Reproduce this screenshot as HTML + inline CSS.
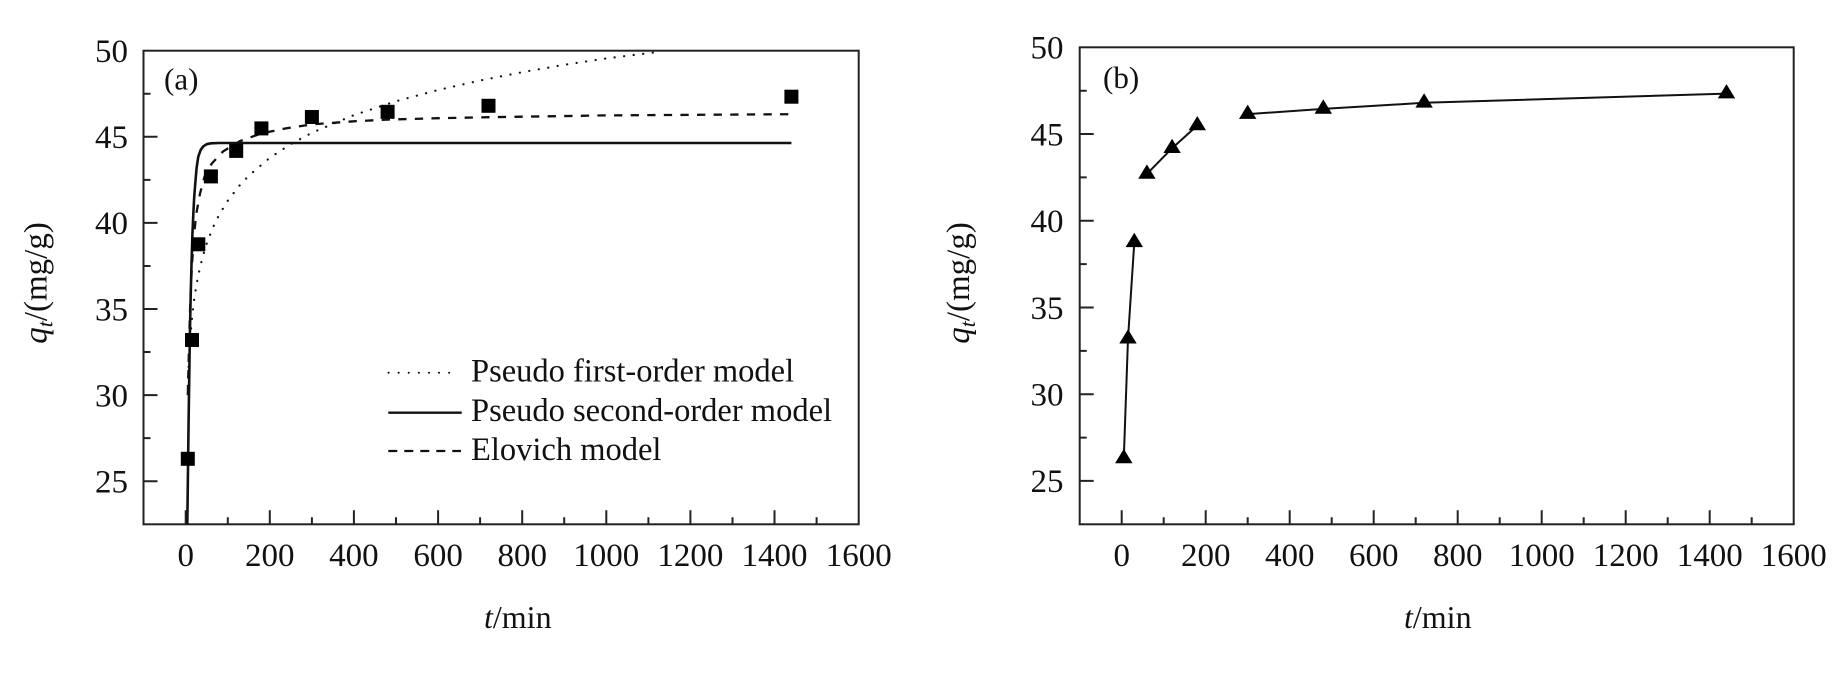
<!DOCTYPE html>
<html>
<head>
<meta charset="utf-8">
<style>
  html, body { margin:0; padding:0; background:#ffffff; }
  svg { display:block; }
  text { font-family: "Liberation Serif", "Times New Roman", serif; fill:#111; }
</style>
</head>
<body>
<svg width="1838" height="673" viewBox="0 0 1838 673" xmlns="http://www.w3.org/2000/svg">
  <rect x="0" y="0" width="1838" height="673" fill="#ffffff"/>

  <!-- ================= PANEL A ================= -->
  <rect x="143.5" y="50.7" width="715.2" height="473.6" fill="none" stroke="#222" stroke-width="2"/>
  <path d="M143.5,136.8H157.5 M143.5,222.9H157.5 M143.5,309H157.5 M143.5,395.1H157.5 M143.5,481.2H157.5
           M143.5,93.75H150.5 M143.5,179.85H150.5 M143.5,265.95H150.5 M143.5,352.05H150.5 M143.5,438.15H150.5
           M185.7,524.3V510.3 M269.8,524.3V510.3 M353.9,524.3V510.3 M438.1,524.3V510.3 M522.2,524.3V510.3 M606.3,524.3V510.3 M690.4,524.3V510.3 M774.5,524.3V510.3
           M227.8,524.3V517.3 M311.9,524.3V517.3 M396,524.3V517.3 M480.1,524.3V517.3 M564.2,524.3V517.3 M648.4,524.3V517.3 M732.5,524.3V517.3 M816.6,524.3V517.3"
        stroke="#222" stroke-width="2" fill="none"/>
  <g font-size="33" text-anchor="end">
    <text x="128" y="62">50</text>
    <text x="128" y="148.1">45</text>
    <text x="128" y="234.2">40</text>
    <text x="128" y="320.3">35</text>
    <text x="128" y="406.4">30</text>
    <text x="128" y="492.5">25</text>
  </g>
  <g font-size="33" text-anchor="middle">
    <text x="185.7" y="566">0</text>
    <text x="269.8" y="566">200</text>
    <text x="353.9" y="566">400</text>
    <text x="438.1" y="566">600</text>
    <text x="522.2" y="566">800</text>
    <text x="606.3" y="566">1000</text>
    <text x="690.4" y="566">1200</text>
    <text x="774.5" y="566">1400</text>
    <text x="858.7" y="566">1600</text>
  </g>
  <text x="484" y="628" font-size="32"><tspan font-style="italic">t</tspan>/min</text>
  <text transform="translate(46.5,283) rotate(-90)" font-size="33" text-anchor="middle"><tspan font-style="italic">q</tspan><tspan font-style="italic" font-size="22" dy="6">t</tspan><tspan dy="-6">/(mg/g)</tspan></text>
  <text x="164" y="89.5" font-size="31">(a)</text>

  <polyline fill="none" stroke="#111" stroke-width="2.2" stroke-linecap="round" stroke-dasharray="0.1 9.5"
    points="187.8,386.0 188.2,374.6 189.1,356.9 189.9,343.1 191.2,326.9 192.4,314.0 194.1,300.2 196.2,286.4 198.3,275.1 202.5,257.3 206.7,243.6 213.0,227.4 219.3,214.5 227.8,200.7 238.3,186.9 248.8,175.7 269.8,157.8 290.9,144.0 311.9,132.8 353.9,115.1 396.0,101.2 438.1,90.0 480.1,80.5 522.2,72.2 564.2,64.8 606.3,58.4 662.2,51.5"/>
  <polyline fill="none" stroke="#111" stroke-width="2.6" stroke-linejoin="round"
    points="187.3,524.3 187.8,484.6 188.6,420.9 189.9,333.1 190.7,295.2 191.6,260.8 192.4,235.0 193.3,214.3 194.1,198.8 195.0,186.7 196.6,167.8 198.3,156.6 200.8,149.7 203.4,146.3 206.7,144.2 210.9,143.3 219.3,143.0 791.4,143.0"/>
  <polyline fill="none" stroke="#111" stroke-width="2.3" stroke-dasharray="8.3 8.3"
    points="187.8,395.1 189.1,343.4 190.3,300.4 192.0,264.2 194.1,235.0 196.2,214.3 200.0,193.6 204.6,176.4 211.8,163.5 223.1,151.4 240.0,141.1 261.4,133.4 286.6,128.2 311.9,124.4 353.9,121.3 387.6,119.6 438.1,118.2 488.5,117.2 606.3,115.4 791.4,114.2"/>

  <g fill="#000">
    <rect x="180.8" y="451.8" width="14" height="14"/>
    <rect x="185.0" y="333.0" width="14" height="14"/>
    <rect x="191.3" y="237.3" width="14" height="14"/>
    <rect x="203.9" y="169.4" width="14" height="14"/>
    <rect x="229.2" y="143.9" width="14" height="14"/>
    <rect x="254.4" y="121.4" width="14" height="14"/>
    <rect x="304.9" y="110.0" width="14" height="14"/>
    <rect x="380.6" y="104.8" width="14" height="14"/>
    <rect x="481.5" y="98.8" width="14" height="14"/>
    <rect x="784.4" y="89.7" width="14" height="14"/>
  </g>

  <line x1="388.5" y1="372.7" x2="459" y2="372.7" stroke="#111" stroke-width="2" stroke-linecap="round" stroke-dasharray="0.1 10"/>
  <line x1="388.3" y1="412.7" x2="461.7" y2="412.7" stroke="#111" stroke-width="2.4"/>
  <line x1="388.3" y1="451" x2="461" y2="451" stroke="#111" stroke-width="2.2" stroke-dasharray="9 7"/>
  <g font-size="32.5">
    <text x="471" y="381.7">Pseudo first-order model</text>
    <text x="471" y="421.2">Pseudo second-order model</text>
    <text x="471" y="460">Elovich model</text>
  </g>

  <!-- ================= PANEL B ================= -->
  <rect x="1079.7" y="47.3" width="714" height="477" fill="none" stroke="#222" stroke-width="2"/>
  <path d="M1079.7,134H1093.7 M1079.7,220.75H1093.7 M1079.7,307.5H1093.7 M1079.7,394.2H1093.7 M1079.7,480.9H1093.7
           M1079.7,90.7H1086.7 M1079.7,177.4H1086.7 M1079.7,264.1H1086.7 M1079.7,350.9H1086.7 M1079.7,437.6H1086.7
           M1121.7,524.3V510.3 M1205.7,524.3V510.3 M1289.7,524.3V510.3 M1373.7,524.3V510.3 M1457.7,524.3V510.3 M1541.7,524.3V510.3 M1625.7,524.3V510.3 M1709.7,524.3V510.3
           M1163.7,524.3V517.3 M1247.7,524.3V517.3 M1331.7,524.3V517.3 M1415.7,524.3V517.3 M1499.7,524.3V517.3 M1583.7,524.3V517.3 M1667.7,524.3V517.3 M1751.7,524.3V517.3"
        stroke="#222" stroke-width="2" fill="none"/>
  <g font-size="33" text-anchor="end">
    <text x="1063.5" y="58.6">50</text>
    <text x="1063.5" y="145.3">45</text>
    <text x="1063.5" y="232">40</text>
    <text x="1063.5" y="318.8">35</text>
    <text x="1063.5" y="405.5">30</text>
    <text x="1063.5" y="492.2">25</text>
  </g>
  <g font-size="33" text-anchor="middle">
    <text x="1121.7" y="566">0</text>
    <text x="1205.7" y="566">200</text>
    <text x="1289.7" y="566">400</text>
    <text x="1373.7" y="566">600</text>
    <text x="1457.7" y="566">800</text>
    <text x="1541.7" y="566">1000</text>
    <text x="1625.7" y="566">1200</text>
    <text x="1709.7" y="566">1400</text>
    <text x="1793.7" y="566">1600</text>
  </g>
  <text x="1404" y="628" font-size="32"><tspan font-style="italic">t</tspan>/min</text>
  <text transform="translate(969,283) rotate(-90)" font-size="33" text-anchor="middle"><tspan font-style="italic">q</tspan><tspan font-style="italic" font-size="22" dy="6">t</tspan><tspan dy="-6">/(mg/g)</tspan></text>
  <text x="1103" y="88" font-size="31">(b)</text>

  <g fill="none" stroke="#111" stroke-width="2">
    <polyline points="1123.8,458.4 1128,338.7 1134.3,242.3"/>
    <polyline points="1146.9,173.9 1172.1,148.2 1197.3,125.5"/>
    <polyline points="1247.7,114.1 1323.3,108.9 1424.1,102.8 1726.5,93.6"/>
  </g>
  <g fill="#000">
    <path d="M1123.8,448.9 L1132.5,463.2 L1115.1,463.2Z"/>
    <path d="M1128,329.2 L1136.7,343.5 L1119.3,343.5Z"/>
    <path d="M1134.3,232.8 L1143,247.1 L1125.6,247.1Z"/>
    <path d="M1146.9,164.4 L1155.6,178.7 L1138.2,178.7Z"/>
    <path d="M1172.1,138.7 L1180.8,153 L1163.4,153Z"/>
    <path d="M1197.3,116 L1206,130.3 L1188.6,130.3Z"/>
    <path d="M1247.7,104.6 L1256.4,118.9 L1239,118.9Z"/>
    <path d="M1323.3,99.4 L1332,113.7 L1314.6,113.7Z"/>
    <path d="M1424.1,93.3 L1432.8,107.6 L1415.4,107.6Z"/>
    <path d="M1726.5,84.1 L1735.2,98.4 L1717.8,98.4Z"/>
  </g>
</svg>
</body>
</html>
